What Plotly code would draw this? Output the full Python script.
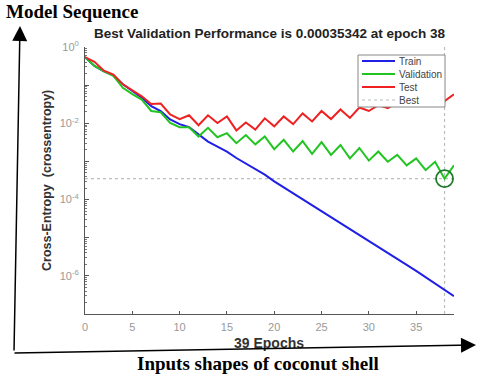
import plotly.graph_objs as go

# значения по эпохам
epochs = list(range(40))

train_loss = [5.4e-1, 3.2e-1, 2.3e-1, 1.8e-1, 1.05e-1, 6.9e-2, 4.7e-2, 2.8e-2, 2.1e-2, 1.26e-2,
              9.5e-3, 7.9e-3, 5.0e-3, 3.3e-3, 2.45e-3, 1.8e-3, 1.23e-3, 8.9e-4, 6.3e-4, 4.5e-4,
              3.0e-4, 2.1e-4, 1.48e-4, 1.02e-4, 7.2e-5, 5.0e-5, 3.5e-5, 2.45e-5, 1.7e-5, 1.2e-5,
              8.3e-6, 5.8e-6, 4.1e-6, 2.8e-6, 1.95e-6, 1.35e-6, 9.3e-7, 6.5e-7, 4.4e-7, 2.95e-7]

val_loss = [5.4e-1, 3.2e-1, 2.3e-1, 1.75e-1, 8.5e-2, 5.8e-2, 4.2e-2, 2.1e-2, 1.95e-2, 1.02e-2,
            7.9e-3, 7.9e-3, 4.5e-3, 7.6e-3, 4.3e-3, 5.5e-3, 3.0e-3, 4.9e-3, 2.8e-3, 4.5e-3,
            2.1e-3, 3.7e-3, 1.82e-3, 3.4e-3, 1.58e-3, 3.2e-3, 1.48e-3, 2.7e-3, 1.2e-3, 2.25e-3,
            1.05e-3, 1.82e-3, 9.8e-4, 1.48e-3, 7.9e-4, 1.2e-3, 5.9e-4, 9.8e-4, 3.5342e-4, 7.9e-4]

test_loss = [5.4e-1, 4.1e-1, 2.4e-1, 1.9e-1, 1.05e-1, 7.2e-2, 5.1e-2, 3.2e-2, 3.3e-2, 1.7e-2,
             1.29e-2, 1.62e-2, 8.9e-3, 1.62e-2, 1.02e-2, 1.51e-2, 6.5e-3, 1.05e-2, 6.8e-3, 1.35e-2,
             8.3e-3, 1.51e-2, 9.5e-3, 1.82e-2, 1.12e-2, 2.1e-2, 1.29e-2, 2.3e-2, 1.38e-2, 2.6e-2,
             2.1e-2, 3.0e-2, 2.5e-2, 3.5e-2, 2.8e-2, 4.0e-2, 3.2e-2, 4.7e-2, 3.8e-2, 5.75e-2]

best_epoch = 38
best_value = 0.00035342

y_tick_vals = [1e0, 1e-1, 1e-2, 1e-3, 1e-4, 1e-5, 1e-6, 1e-7]
y_tick_text = ['10<sup>0</sup>', '', '10<sup>-2</sup>', '', '10<sup>-4</sup>', '', '10<sup>-6</sup>', '']
x_tick_vals = [0, 5, 10, 15, 20, 25, 30, 35]

legend_names = ['Train', 'Validation', 'Test', 'Best']

# геометрия области графика в пикселях
L, R, T, B = 85, 454, 47, 314
W, H = 480, 376


def px(x):
    return (x - L) / (R - L)


def py(y):
    return (B - y) / (B - T)


colors = {'Train': '#1f1fe6', 'Validation': '#22c422', 'Test': '#ee2222', 'Best': '#b8c0b8'}

trace_train = go.Scatter(x=epochs, y=train_loss, name='Train', mode='lines',
                         line=dict(color=colors['Train'], width=2))
trace_val = go.Scatter(x=epochs, y=val_loss, name='Validation', mode='lines',
                       line=dict(color=colors['Validation'], width=2))
trace_test = go.Scatter(x=epochs, y=test_loss, name='Test', mode='lines',
                        line=dict(color=colors['Test'], width=2))
trace_best = go.Scatter(x=[0, epochs[-1], None, best_epoch, best_epoch],
                        y=[best_value, best_value, None, 1e-7, 1e0],
                        name='Best', mode='lines',
                        line=dict(color=colors['Best'], width=1.2, dash='dot'))
trace_circle = go.Scatter(x=[best_epoch], y=[best_value], mode='markers',
                          marker=dict(symbol='circle-open', size=17, color='#1e7a2a',
                                      line=dict(width=1.8)))

data = [trace_best, trace_train, trace_val, trace_test, trace_circle]

sans = 'Liberation Sans, Arial, sans-serif'
serif = 'Liberation Serif, Times New Roman, serif'

layout = go.Layout(
    width=W, height=H,
    margin=dict(l=L, r=W - R, t=T, b=H - B),
    paper_bgcolor='white', plot_bgcolor='white',
    showlegend=False,
    title=dict(text='<b>Best Validation Performance is 0.00035342 at epoch 38</b>',
               x=0.5, xref='paper', xanchor='center',
               y=1 - 33 / H, yref='container', yanchor='middle',
               font=dict(family=sans, size=13.5, color='#222222')),
    xaxis=dict(range=[0, 39], tickvals=x_tick_vals, ticks='inside', ticklen=3,
               tickcolor='#555555', showline=True, linecolor='#555555', linewidth=1,
               showgrid=False, zeroline=False, mirror=False, ticklabelstandoff=3,
               tickfont=dict(family=sans, size=11, color='#999999')),
    yaxis=dict(type='log', range=[-7, 0], tickvals=y_tick_vals, ticktext=y_tick_text,
               ticks='inside', ticklen=4, tickcolor='#555555',
               showline=True, linecolor='#555555', linewidth=1,
               showgrid=False, zeroline=False, ticklabelstandoff=3,
               minor=dict(ticks='inside', ticklen=2, tickcolor='#777777', dtick='D1',
                          showgrid=False),
               tickfont=dict(family=sans, size=11, color='#999999')),
)

fig = go.Figure(data=data, layout=layout)

# легенда рисуется вручную (у plotly строки слишком высокие)
fig.add_shape(type='rect', xref='paper', yref='paper', x0=px(358), x1=px(445),
              y0=py(107), y1=py(55), line=dict(color='#888888', width=1),
              fillcolor='white', layer='above')
for i, name in enumerate(legend_names):
    yy = 61 + 13 * i
    fig.add_shape(type='line', xref='paper', yref='paper', x0=px(362), x1=px(395),
                  y0=py(yy), y1=py(yy), layer='above',
                  line=dict(color=colors[name], width=1.2 if name == 'Best' else 2,
                            dash='dot' if name == 'Best' else 'solid'))
    fig.add_annotation(text=name, x=px(397), y=py(yy), xref='paper', yref='paper',
                       xanchor='left', yanchor='middle', showarrow=False,
                       font=dict(family=sans, size=10, color='#444444'))

# подписи осей и текст снаружи
fig.add_annotation(text='<b>39 Epochs</b>', x=px(269), y=py(343), xref='paper', yref='paper',
                   xanchor='center', yanchor='middle', showarrow=False,
                   font=dict(family=sans, size=14, color='#333333'))
fig.add_annotation(text='<b>Cross-Entropy  (crossentropy)</b>', x=px(47), y=py(181),
                   xref='paper', yref='paper', textangle=-90, showarrow=False,
                   xanchor='center', yanchor='middle',
                   font=dict(family=sans, size=12.5, color='#333333'))
fig.add_annotation(text='<b>Model Sequence</b>', x=px(4), y=py(12), xref='paper', yref='paper',
                   xanchor='left', yanchor='middle', showarrow=False,
                   font=dict(family=serif, size=19, color='black'))
fig.add_annotation(text='<b>Inputs shapes of coconut shell</b>', x=px(258), y=py(363),
                   xref='paper', yref='paper', xanchor='center', yanchor='middle',
                   showarrow=False, font=dict(family=serif, size=19, color='black'))

# большие стрелки
fig.add_annotation(text='', x=px(20), y=py(26), xref='paper', yref='paper',
                   ax=14 - 20, ay=352 - 26, showarrow=True, arrowhead=2, arrowsize=2,
                   arrowwidth=1.5, arrowcolor='black')
fig.add_annotation(text='', x=px(476), y=py(345), xref='paper', yref='paper',
                   ax=13 - 476, ay=353 - 345, showarrow=True, arrowhead=2, arrowsize=2,
                   arrowwidth=1.5, arrowcolor='black')

# убрать отступ body, чтобы картинка начиналась с левого верхнего угла
fig.write_html("out.html", config={'displayModeBar': False},
               post_script="document.body.style.margin='0px';")
